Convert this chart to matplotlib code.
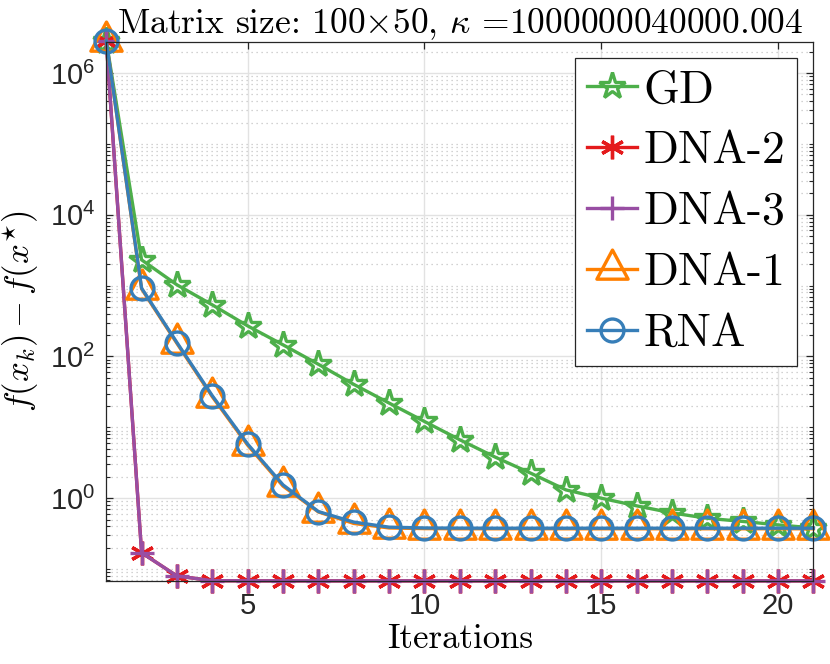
import numpy as np
import matplotlib
matplotlib.use("Agg")
import matplotlib.pyplot as plt
from matplotlib.path import Path
from matplotlib.ticker import FixedLocator, LogLocator, NullFormatter, LogFormatterSciNotation

plt.rcParams['font.family'] = ['Liberation Sans', 'DejaVu Sans']
plt.rcParams['mathtext.fontset'] = 'cm'

# iterations and f(x_k) - f(x*)
iters = np.arange(1, 22)
gd = [2.85e6, 2310, 1026, 535, 270, 146, 77.6, 40.4, 22.0, 12.1, 6.67, 3.8, 2.26,
      1.31, 1.0, 0.78, 0.62, 0.52, 0.47, 0.42, 0.38]
dna2 = [2.85e6, 0.17, 0.0798, 0.0685, 0.0682, 0.0681, 0.0681, 0.0681, 0.0681, 0.0681,
        0.0681, 0.0681, 0.0681, 0.0681, 0.0681, 0.0681, 0.0681, 0.0681, 0.0681, 0.0681, 0.0681]
dna3 = [2.85e6, 0.17, 0.0798, 0.0685, 0.0682, 0.0681, 0.0681, 0.0681, 0.0681, 0.0681,
        0.0681, 0.0681, 0.0681, 0.0681, 0.0681, 0.0681, 0.0681, 0.0681, 0.0681, 0.0681, 0.0681]
dna1 = [2.85e6, 900, 153, 27.0, 5.6, 1.48, 0.64, 0.44, 0.38, 0.372, 0.37, 0.37, 0.37,
        0.37, 0.37, 0.37, 0.37, 0.37, 0.37, 0.37, 0.37]
rna = [2.85e6, 920, 157, 27.9, 5.8, 1.54, 0.647, 0.46, 0.39, 0.38, 0.378, 0.377, 0.377,
       0.377, 0.377, 0.377, 0.377, 0.377, 0.377, 0.377, 0.377]

x_ticks = [5, 10, 15, 20]
y_ticks = [1e0, 1e2, 1e4, 1e6]
title = r"Matrix size: 100$\times$50, $\kappa$ =1000000040000.004"

# triangle with its centroid on the data point, like MATLAB's '^'
tri = Path([(0, 1.245), (-1, -0.62), (1, -0.62), (0, 1.245)],
           [Path.MOVETO, Path.LINETO, Path.LINETO, Path.CLOSEPOLY])

fig = plt.figure(figsize=(8.3, 6.64), dpi=100)
ax = fig.add_axes([0.128, 0.125, 0.852, 0.8117])

lw = 2.4
ax.plot(iters, gd, color='#4daf4a', lw=lw, marker='*', ms=20, mfc='none', mew=lw,
        label='GD', clip_on=False)
ax.plot(iters, dna2, color='#e41a1c', lw=lw, marker=(6, 2, 0), ms=17, mew=lw,
        label='DNA-2', clip_on=False)
ax.plot(iters, dna3, color='#984ea3', lw=lw, marker='+', ms=17, mew=lw,
        label='DNA-3', clip_on=False)
ax.plot(iters, dna1, color='#ff7f00', lw=lw, marker=tri, ms=28, mfc='none', mew=lw,
        label='DNA-1', clip_on=False)
ax.plot(iters, rna, color='#377eb8', lw=lw, marker='o', ms=16.5, mfc='none', mew=lw,
        label='RNA', clip_on=False)

ax.set_yscale('log')
ax.set_xlim(1, 21)
ax.set_ylim(0.0678, 2.74e6)
ax.xaxis.set_major_locator(FixedLocator(x_ticks))
ax.yaxis.set_major_locator(FixedLocator(y_ticks))
ax.yaxis.set_major_formatter(LogFormatterSciNotation())
ax.yaxis.set_minor_locator(LogLocator(base=10, subs=np.arange(1, 10), numticks=100))
ax.yaxis.set_minor_formatter(NullFormatter())

ax.grid(True, which='major', color='#e2e2e2', lw=1.0, ls='-')
ax.grid(True, which='minor', axis='y', color='#c4c4c4', lw=0.9, ls=(0, (1, 3)))
ax.set_axisbelow(True)

for s in ax.spines.values():
    s.set_color('#262626')
    s.set_linewidth(0.9)
ax.tick_params(which='both', direction='in', top=True, right=True, colors='#262626',
               labelsize=21, labelcolor='#262626')
ax.tick_params(which='major', length=5, width=0.9, pad=8)
ax.tick_params(which='minor', length=3, width=0.8)

ax.set_title(title, fontfamily='cmr10', math_fontfamily='cm', fontsize=25.5, pad=5)
ax.set_xlabel('Iterations', fontfamily='cmr10', fontsize=25, labelpad=2)
ax.set_ylabel(r"$f(x_k) - f(x^{\star})$", math_fontfamily='cm', fontsize=25, labelpad=6)

leg = ax.legend(loc='upper right', bbox_to_anchor=(0.977, 0.970), borderaxespad=0,
                prop={'family': 'cmr10', 'size': 33}, fancybox=False, framealpha=1,
                edgecolor='#262626', handlelength=1.1, handletextpad=0.15,
                labelspacing=0.42, borderpad=0.25)
leg.get_frame().set_linewidth(0.9)
leg.set_zorder(5)

fig.savefig('out.png', dpi=100)
